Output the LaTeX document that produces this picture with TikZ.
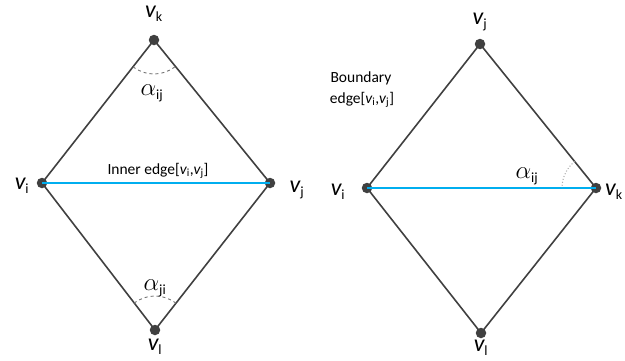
\documentclass[tikz,border=0pt]{standalone}
\usepackage{fontspec}
\setmainfont{Carlito}
\newcommand{\vlab}[1]{$\mathit{v}_{\mbox{\fontsize{14}{14}\selectfont #1}}$}
\newcommand{\alab}[1]{$\alpha_{\mbox{\fontsize{14}{14}\selectfont #1}}$}
\newcommand{\tv}[1]{$\mathit{v}_{\mbox{\fontsize{11}{11}\selectfont #1}}$}
\begin{document}
\begin{tikzpicture}[x=1pt,y=1pt,
  edge/.style={draw=black!75,line width=1.6pt},
  blueedge/.style={draw={rgb,255:red,0;green,174;blue,239},line width=2.2pt},
  vert/.style={circle,fill=black!75,inner sep=0pt,minimum size=10.5pt},
  mlab/.style={inner sep=0pt,font=\fontsize{24}{24}\selectfont},
  tlab/.style={inner sep=0pt,font=\fontsize{15.5}{17}\selectfont},
  angarc/.style={draw=black!55,dashed,line width=0.9pt},
  angarc2/.style={draw=black!35,dotted,line width=1pt}]
\useasboundingbox (0,0) rectangle (625,360);
% left diamond
\node[vert] (Lk) at (154,320) {};
\node[vert] (Li) at (42,177) {};
\node[vert] (Lj) at (270,177) {};
\node[vert] (Ll) at (155,30) {};
\draw[edge] (Lk.center) -- (Li.center) -- (Ll.center) -- (Lj.center) -- (Lk.center);
\draw[blueedge] (Li.center) -- (Lj.center);
\draw[angarc] ([shift={(232:34)}]Lk.center) arc[start angle=232,end angle=309,radius=34];
\draw[angarc] ([shift={(52:34)}]Ll.center) arc[start angle=52,end angle=128,radius=34];
\node[mlab] (Lklab) at (154,346) {\vlab{k}};
\node[mlab] (Lilab) at (22,174) {\vlab{i}};
\node[mlab] (Ljlab) at (297,170) {\vlab{j}};
\node[mlab] (Lllab) at (155,13) {\vlab{l}};
\node[mlab] (La1) at (152,267) {\alab{ij}};
\node[mlab] (La2) at (155,72) {\alab{ji}};
\node[tlab] (Linner) at (158,189) {Inner edge[\tv{i},\tv{j}]};
% right diamond
\node[vert] (Rj) at (480,316) {};
\node[vert] (Ri) at (367,172) {};
\node[vert] (Rk) at (596,172) {};
\node[vert] (Rl) at (481,27) {};
\draw[edge] (Rj.center) -- (Ri.center) -- (Rl.center) -- (Rk.center) -- (Rj.center);
\draw[blueedge] (Ri.center) -- (Rk.center);
\draw[angarc2] ([shift={(129:34)}]Rk.center) arc[start angle=129,end angle=180,radius=34];
\node[mlab] (Rjlab) at (480,338) {\vlab{j}};
\node[mlab] (Rilab) at (338,168) {\vlab{i}};
\node[mlab] (Rklab) at (614,168) {\vlab{k}};
\node[mlab] (Rllab) at (481,12) {\vlab{l}};
\node[mlab] (Ra1) at (527,184) {\alab{ij}};
\node[tlab] (Rb1) at (361,282) {Boundary};
\node[tlab] (Rb2) at (362,260) {edge[\tv{i},\tv{j}]};
\end{tikzpicture}
\end{document}
